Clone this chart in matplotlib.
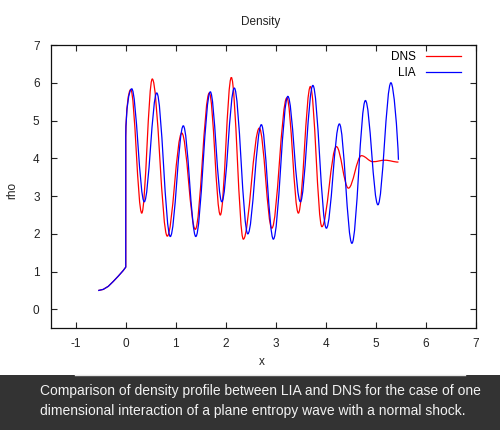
import matplotlib
matplotlib.use('Agg')
import matplotlib.pyplot as plt
from matplotlib.path import Path
from matplotlib.patches import PathPatch, Rectangle
from matplotlib.lines import Line2D

plt.rcParams['font.family'] = ['Liberation Sans', 'DejaVu Sans']
plt.rcParams['axes.unicode_minus'] = False

# ---- data ----
pre_x = [-0.55, -0.45, -0.35, -0.25, -0.15, -0.05, 0.0]
pre_rho = [0.50, 0.53, 0.61, 0.74, 0.88, 1.03, 1.12]
shock_x = 0.0
dns_shock_top = 4.55
lia_shock_top = 4.58

dns_ext_x = [0.10, 0.32, 0.53, 0.83, 1.12, 1.39, 1.67, 1.89, 2.11, 2.35,
             2.67, 2.92, 3.22, 3.45, 3.69, 3.92, 4.21, 4.45, 4.71, 4.94,
             5.18, 5.45]
dns_ext_rho = [5.82, 2.55, 6.10, 1.94, 4.67, 2.12, 5.73, 2.50, 6.14, 1.86,
               4.80, 2.15, 5.60, 2.55, 5.90, 2.19, 4.31, 3.21, 4.07, 3.91,
               3.95, 3.90]

lia_ext_x = [0.12, 0.37, 0.62, 0.89, 1.15, 1.40, 1.69, 1.92, 2.17, 2.44,
             2.71, 2.95, 3.24, 3.49, 3.74, 4.01, 4.27, 4.52, 4.79, 5.04,
             5.30, 5.45]
lia_ext_rho = [5.84, 2.85, 5.73, 1.93, 4.86, 1.93, 5.76, 2.85, 5.86, 2.00,
               4.89, 1.86, 5.64, 2.85, 5.93, 2.15, 4.91, 1.75, 5.53, 2.77,
               6.00, 3.96]

x_ticks = [-1, 0, 1, 2, 3, 4, 5, 6, 7]
y_ticks = [0, 1, 2, 3, 4, 5, 6, 7]

caption = ("Comparison of density profile between LIA and DNS for the case of one\n"
           "dimensional interaction of a plane entropy wave with a normal shock.")


def smooth_path(px, py, sx, top, ex, ey, end_mid=False):
    verts = [(px[0], py[0])]
    codes = [Path.MOVETO]
    for x, y in zip(px[1:], py[1:]):
        verts.append((x, y))
        codes.append(Path.LINETO)
    verts.append((sx, top))
    codes.append(Path.LINETO)
    x0, y0, x1, y1 = sx, top, ex[0], ey[0]
    dx = x1 - x0
    verts += [(x0 + 0.05 * dx, y0 + 0.6 * (y1 - y0)), (x1 - 0.45 * dx, y1), (x1, y1)]
    codes += [Path.CURVE4] * 3
    n = len(ex)
    for i in range(1, n):
        x0, y0, x1, y1 = ex[i - 1], ey[i - 1], ex[i], ey[i]
        dx = x1 - x0
        if end_mid and i == n - 1:
            c2 = (x1 - 0.12 * dx, y1 + 0.35 * (y0 - y1))
        else:
            c2 = (x1 - 0.36 * dx, y1)
        verts += [(x0 + 0.36 * dx, y0), c2, (x1, y1)]
        codes += [Path.CURVE4] * 3
    return Path(verts, codes)


fig = plt.figure(figsize=(5.0, 4.3), dpi=100)
fig.patch.set_facecolor('white')
ax = fig.add_axes([50.7 / 500, 1 - 328.3 / 430, (476 - 50.7) / 500, (328.3 - 45) / 430])

red = '#ff0000'
blue = '#0000ff'
ax.add_patch(PathPatch(smooth_path(pre_x, pre_rho, shock_x, dns_shock_top,
                                   dns_ext_x, dns_ext_rho),
                       fill=False, edgecolor=red, lw=0.9))
ax.add_patch(PathPatch(smooth_path(pre_x, pre_rho, shock_x, lia_shock_top,
                                   lia_ext_x, lia_ext_rho, end_mid=True),
                       fill=False, edgecolor=blue, lw=0.9))

ax.set_xlim(-1.5, 7)
ax.set_ylim(-0.5, 7)
ax.set_xticks(x_ticks)
ax.set_yticks(y_ticks)
ax.tick_params(direction='in', top=True, right=True, length=4, width=0.8,
               labelsize=8.5, colors='#222222', pad=7)
ax.tick_params(axis='y', pad=8)
for s in ax.spines.values():
    s.set_linewidth(0.9)
    s.set_color('#111111')

handles = [Line2D([], [], color=red, lw=0.9), Line2D([], [], color=blue, lw=0.9)]
ax.legend(handles, ['DNS', 'LIA'], loc='upper right', frameon=False,
          markerfirst=False, handlelength=3.0, fontsize=8.5,
          borderaxespad=0.3, handletextpad=0.8, labelspacing=0.35,
          bbox_to_anchor=(0.984, 1.007))

fig.text(260.5 / 500, 1 - 22 / 430, 'Density', ha='center', va='center',
         fontsize=8.5, color='#222222')
fig.text(12 / 500, 1 - 190 / 430, 'rho', ha='center', va='center',
         rotation=90, fontsize=8.5, color='#222222')
fig.text(262 / 500, 1 - 362 / 430, 'x', ha='center', va='center',
         fontsize=8.5, color='#222222')

fig.patches.append(Rectangle((0, 0), 1, 55 / 430, transform=fig.transFigure,
                             facecolor='#333333', edgecolor='none', zorder=0))
fig.add_artist(Line2D([75 / 500, 465 / 500], [1 - 374.5 / 430, 1 - 374.5 / 430],
                      transform=fig.transFigure, color='#e6e6e6', lw=1))
fig.text(40 / 500, 1 - 401 / 430, caption, ha='left', va='center',
         fontsize=10, color='#f2f2f2', linespacing=1.55)

fig.savefig('out.png', dpi=100)
